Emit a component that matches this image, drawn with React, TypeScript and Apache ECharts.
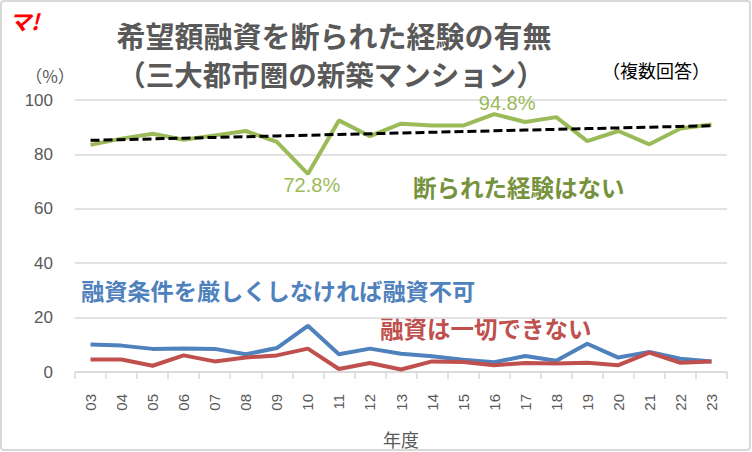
import React, { useEffect, useRef } from "react";
import * as echarts from "echarts";

const years = ["03","04","05","06","07","08","09","10","11","12","13","14","15","16","17","18","19","20","21","22","23"];
const noRefusal = [83.5,85.8,87.6,85.4,87.0,88.6,84.6,72.8,92.5,86.7,91.3,90.6,90.6,94.8,91.9,93.7,84.9,88.6,83.7,89.5,91.0];
const stricter = [10.1,9.7,8.5,8.6,8.5,6.5,8.8,17.0,6.5,8.6,6.7,5.8,4.5,3.6,5.9,4.1,10.4,5.3,7.4,4.9,3.9];
const noLoan = [4.6,4.6,2.3,6.1,3.9,5.3,6.1,8.6,1.1,3.3,0.9,3.9,3.7,2.5,3.3,3.1,3.4,2.5,7.1,3.4,3.9];
const yTicks = [0, 100, 20];
const labeledIdx = [7, 13];

function trend(v: number[]): number[] {
  const n = v.length;
  const xm = (n - 1) / 2;
  const ym = v.reduce((a, b) => a + b, 0) / n;
  let sxy = 0, sxx = 0;
  v.forEach((y, i) => { sxy += (i - xm) * (y - ym); sxx += (i - xm) * (i - xm); });
  const b = sxy / sxx;
  return v.map((_, i) => +(ym + b * (i - xm)).toFixed(2));
}

const CJK = '"Noto Sans CJK JP", sans-serif';
const NUM = '"Liberation Sans", "Noto Sans", sans-serif';

export default function App() {
  const ref = useRef<HTMLDivElement>(null);
  useEffect(() => {
    const chart = echarts.init(ref.current!, null, { renderer: "svg" });
    const greenData = noRefusal.map((v, i) => {
      if (i === labeledIdx[0]) {
        return { value: v, label: { show: true, position: "bottom", distance: 1 } };
      }
      if (i === labeledIdx[1]) {
        return { value: v, label: { show: true, position: "top", distance: 3 } };
      }
      return v;
    });
    chart.setOption({
      animation: false,
      backgroundColor: "#ffffff",
      grid: { left: 75, right: 25, top: 100, bottom: 80, outerBoundsMode: "none", containLabel: false },
      xAxis: {
        type: "category",
        data: years,
        name: "年度",
        nameLocation: "middle",
        nameGap: 58,
        nameTextStyle: { fontFamily: CJK, fontSize: 18, color: "#595959" },
        axisLine: { lineStyle: { color: "#d9d9d9", width: 1.5 } },
        axisTick: { show: true, length: 7, lineStyle: { color: "#d9d9d9", width: 1.5 } },
        axisLabel: { rotate: 90, margin: 22, fontFamily: NUM, fontSize: 15, color: "#595959" },
      },
      yAxis: {
        type: "value",
        min: yTicks[0],
        max: yTicks[1],
        interval: yTicks[2],
        axisLine: { show: false },
        axisTick: { show: false },
        splitLine: { lineStyle: { color: "#d9d9d9", width: 1.5 } },
        axisLabel: { margin: 22, fontFamily: NUM, fontSize: 17, color: "#595959" },
      },
      series: [
        {
          name: "融資条件を厳しくしなければ融資不可",
          type: "line",
          data: stricter,
          symbol: "none",
          lineStyle: { color: "#4f81bd", width: 4 },
          z: 2,
        },
        {
          name: "融資は一切できない",
          type: "line",
          data: noLoan,
          symbol: "none",
          lineStyle: { color: "#c0504d", width: 4 },
          z: 3,
        },
        {
          name: "断られた経験はない",
          type: "line",
          data: greenData,
          symbol: "circle",
          symbolSize: 1,
          showSymbol: true,
          itemStyle: { color: "rgba(0,0,0,0)" },
          lineStyle: { color: "#9bbb59", width: 4 },
          label: {
            show: false,
            formatter: (p: any) => Number(p.value).toFixed(1) + "%",
            fontFamily: NUM,
            fontSize: 20,
            lineHeight: 20,
            color: "#9bbb59",
          },
          labelLayout: (p: any) =>
            p.dataIndex === labeledIdx[1] ? { dx: 13, dy: 2, hideOverlap: false } : { dx: 4, dy: 0, hideOverlap: false },
          z: 4,
        },
        {
          name: "trend",
          type: "line",
          data: trend(noRefusal),
          symbol: "none",
          lineStyle: { color: "#000000", width: 3, type: [9, 4] },
          z: 5,
        },
      ],
      graphic: [
        {
          type: "rect",
          shape: { x: 1, y: 1, width: 749, height: 449, r: 3 },
          style: { fill: "none", stroke: "#d9d9d9", lineWidth: 2 },
          z: 100,
        },
        {
          type: "text",
          left: 9,
          top: 9,
          style: { text: "マ!", fontFamily: CJK, fontSize: 22, fontWeight: "bold", fontStyle: "italic", fill: "#ff0000" },
        },
        {
          type: "text",
          x: 334,
          y: 35,
          style: { text: "希望額融資を断られた経験の有無", fontFamily: CJK, fontSize: 29, lineHeight: 30, fontWeight: "bold", fill: "#595959", align: "center", verticalAlign: "middle" },
        },
        {
          type: "text",
          x: 331,
          y: 73,
          style: { text: "（三大都市圏の新築マンション）", fontFamily: CJK, fontSize: 28.5, lineHeight: 28, fontWeight: "bold", fill: "#595959", align: "center", verticalAlign: "middle" },
        },
        {
          type: "text",
          x: 50,
          y: 75,
          style: { text: "（%）", fontFamily: CJK, fontSize: 17, fill: "#595959", align: "center", verticalAlign: "middle" },
        },
        {
          type: "text",
          x: 656,
          y: 70,
          style: { text: "（複数回答）", fontFamily: CJK, fontSize: 18, fill: "#000000", align: "center", verticalAlign: "middle" },
        },
        {
          type: "text",
          x: 413,
          y: 187,
          style: { text: "断られた経験はない", fontFamily: CJK, fontSize: 23.5, fontWeight: "bold", fill: "#76923c", align: "left", verticalAlign: "middle" },
        },
        {
          type: "text",
          x: 81,
          y: 290,
          style: { text: "融資条件を厳しくしなければ融資不可", fontFamily: CJK, fontSize: 23.2, fontWeight: "bold", fill: "#4f81bd", align: "left", verticalAlign: "middle" },
        },
        {
          type: "text",
          x: 380,
          y: 328,
          style: { text: "融資は一切できない", fontFamily: CJK, fontSize: 23.5, fontWeight: "bold", fill: "#c0504d", align: "left", verticalAlign: "middle" },
        },
      ],
    });
    return () => chart.dispose();
  }, []);
  return <div ref={ref} style={{ position: "fixed", left: 0, top: 0, width: 752, height: 452 }} />;
}
